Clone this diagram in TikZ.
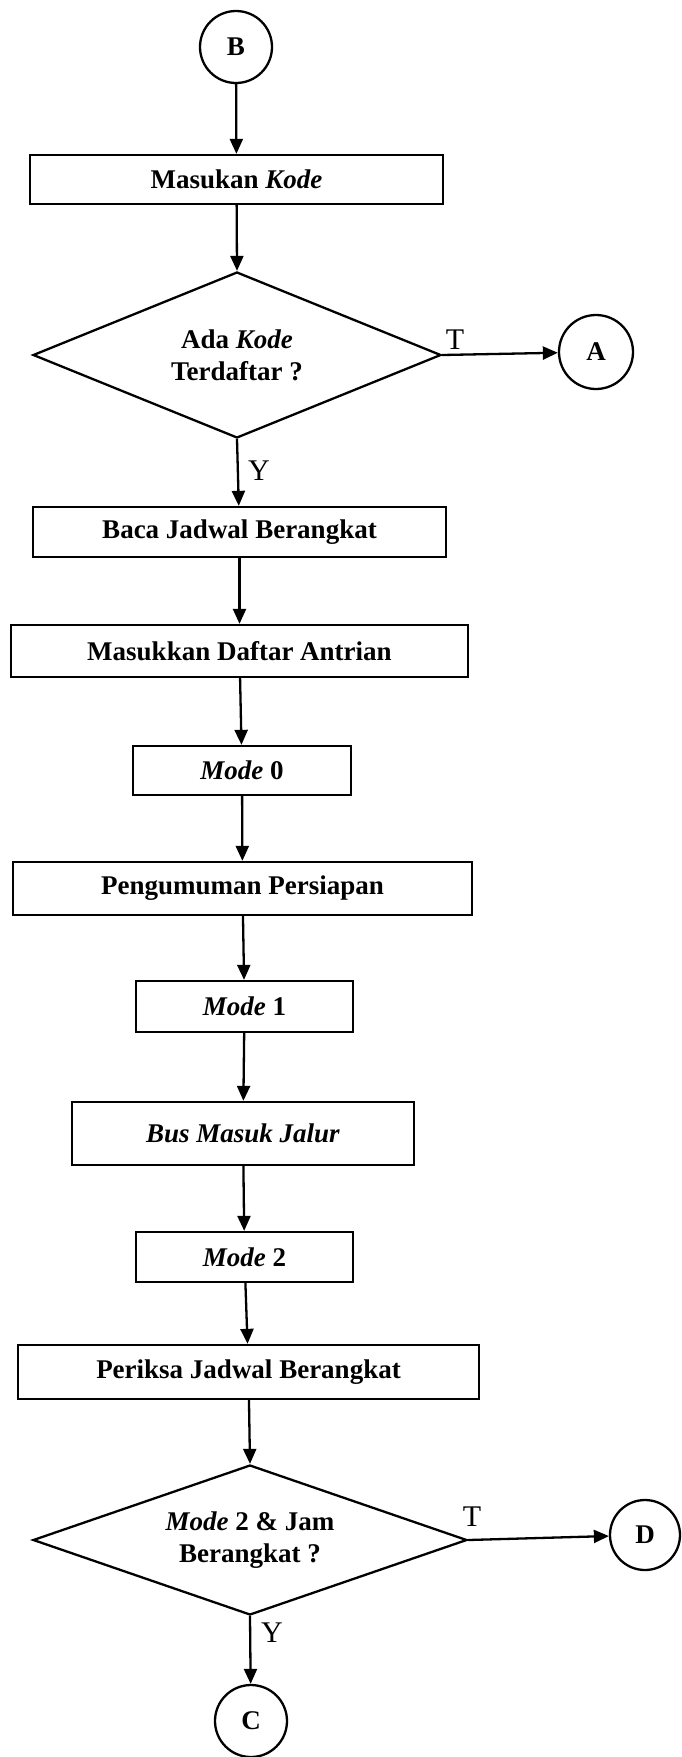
\documentclass[tikz,border=0pt]{standalone}
\usepackage{fontspec}
\setmainfont{Liberation Serif}
\usetikzlibrary{shapes.geometric,arrows.meta}
\tikzset{
  proc/.style={draw, line width=2.3pt, rectangle, inner sep=0pt, font=\fontsize{27}{32}\selectfont\bfseries, align=center},
  dec/.style={draw, line width=2.3pt, diamond, aspect=2.6, inner sep=0pt, font=\fontsize{27}{32}\selectfont\bfseries, align=center},
  conn/.style={draw, line width=2.3pt, circle, inner sep=0pt, minimum size=72pt, font=\fontsize{27}{32}\selectfont\bfseries},
  flow/.style={line width=2.3pt, -{Triangle[length=15pt,width=13pt]}},
  lbl/.style={font=\fontsize{30}{30}\selectfont, inner sep=0pt}
}
\begin{document}
\begin{tikzpicture}[x=1pt,y=-1pt]
\useasboundingbox (0,0) rectangle (681,1757);
\node[conn] (B) at (236,47) {B};
\node[proc, minimum width=413pt, minimum height=49pt] (p1) at (236.5,179.5) {Masukan \textit{Kode}};
\node[dec, minimum width=408pt, minimum height=166pt] (d1) at (237,355) {Ada \textit{Kode}\\Terdaftar ?};
\node[conn, minimum size=74pt] (A) at (596,352) {A};
\node[proc, minimum width=413pt, minimum height=50pt] (p2) at (239.5,532) {Baca Jadwal Berangkat};
\node[proc, minimum width=457pt, minimum height=52pt] (p3) at (239.5,651) {Masukkan Daftar Antrian};
\node[proc, minimum width=218pt, minimum height=49pt] (p4) at (242,770.5) {\textit{Mode} 0};
\node[proc, minimum width=459pt, minimum height=53pt] (p5) at (242.5,888.5) {Pengumuman Persiapan};
\node[proc, minimum width=217pt, minimum height=51pt] (p6) at (244.5,1006.5) {\textit{Mode} 1};
\node[proc, minimum width=342pt, minimum height=63pt] (p7) at (243,1133.5) {\textit{Bus Masuk Jalur}};
\node[proc, minimum width=217pt, minimum height=50pt] (p8) at (244.5,1257) {\textit{Mode} 2};
\node[proc, minimum width=461pt, minimum height=54pt] (p9) at (248.5,1372) {Periksa Jadwal Berangkat};
\node[dec, minimum width=434pt, minimum height=150pt] (d2) at (250,1540) {\textit{Mode} 2 \& Jam\\Berangkat ?};
\node[conn, minimum size=70pt] (D) at (645,1535) {D};
\node[conn] (C) at (251,1721) {C};

\draw[flow] (B) -- (p1);
\draw[flow] (p1) -- (d1.north);
\draw[flow] (d1.east) -- (A);
\draw[flow] (d1.south) -- (p2);
\draw[flow] (p2) -- (p3);
\draw[flow] (p3) -- (p4);
\draw[flow] (p4) -- (p5);
\draw[flow] (p5) -- (p6);
\draw[flow] (p6) -- (p7);
\draw[flow] (p7) -- (p8);
\draw[flow] (p8) -- (p9);
\draw[flow] (p9) -- (d2.north);
\draw[flow] (d2.east) -- (D);
\draw[flow] (d2.south) -- (C);

\node[lbl] (tA) at (455,340) {T};
\node[lbl] (yA) at (259,471) {Y};
\node[lbl] (tD) at (472,1517) {T};
\node[lbl] (yD) at (272,1633) {Y};
\end{tikzpicture}
\end{document}
